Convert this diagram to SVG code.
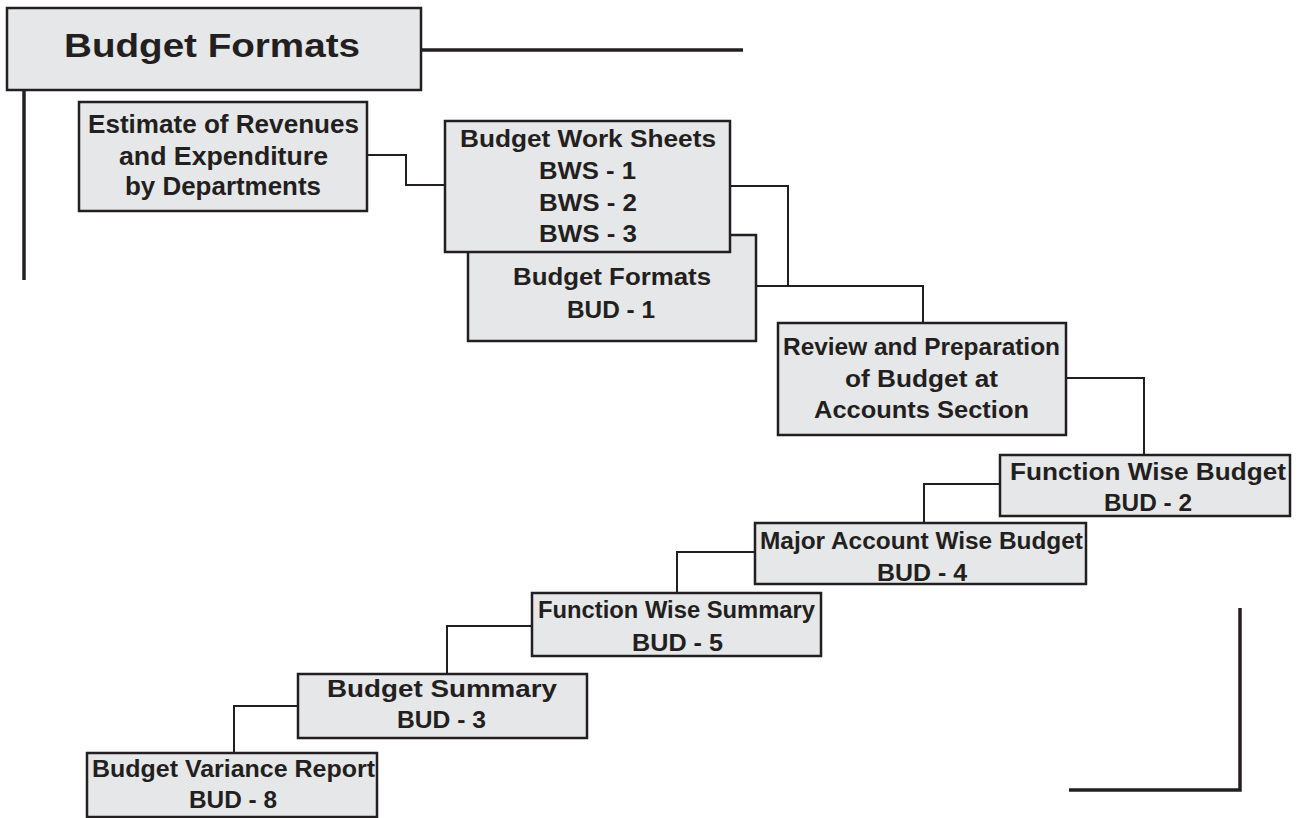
<svg xmlns="http://www.w3.org/2000/svg" width="1300" height="818" viewBox="0 0 1300 818">
<style>
.box{fill:#e6e7e8;stroke:#231f20;stroke-width:2.5}
.t{font-family:"Liberation Sans",Arial,sans-serif;font-weight:bold;font-size:23px;fill:#231f20}
.big{font-size:25px}
.title{font-size:34px}
.c{fill:none;stroke:#231f20;stroke-width:2}
.heavy{fill:none;stroke:#231f20;stroke-width:3.5}
</style>
<rect width="1300" height="818" fill="#ffffff"/>
<g id="connectors">
<polyline class="c" points="367,155 406,155 406,185 445,185"/>
<polyline class="c" points="730,186 788,186 788,286"/>
<polyline class="c" points="756,286 923,286 923,323"/>
<polyline class="c" points="1066,378 1144,378 1144,455"/>
<polyline class="c" points="1000,484 924,484 924,523"/>
<polyline class="c" points="755,552 677,552 677,593"/>
<polyline class="c" points="532,626 447,626 447,674"/>
<polyline class="c" points="298,706 234,706 234,753"/>
</g>
<g id="decor">
<line class="heavy" x1="421" y1="50" x2="743" y2="50"/>
<line class="heavy" x1="24" y1="90" x2="24" y2="280"/>
<polyline class="heavy" points="1240,608 1240,790 1069,790"/>
</g>
<g id="title">
<rect class="box" x="7" y="8" width="414" height="82"/>
<text class="t title" x="64" y="57" textLength="296" lengthAdjust="spacingAndGlyphs">Budget  Formats</text>
</g>
<g id="estimate">
<rect class="box" x="79" y="102" width="288" height="109"/>
<text class="t big" x="88" y="133" textLength="271" lengthAdjust="spacingAndGlyphs">Estimate of Revenues</text>
<text class="t big" x="119" y="165" textLength="209" lengthAdjust="spacingAndGlyphs">and  Expenditure</text>
<text class="t big" x="125" y="195" textLength="196" lengthAdjust="spacingAndGlyphs">by Departments</text>
</g>
<g id="bud1">
<rect class="box" x="468" y="235" width="288" height="106"/>
<text class="t" x="513" y="285" textLength="198" lengthAdjust="spacingAndGlyphs">Budget Formats</text>
<text class="t" x="567" y="318" textLength="88" lengthAdjust="spacingAndGlyphs">BUD - 1</text>
</g>
<g id="bws">
<rect class="box" x="445" y="121" width="285" height="131"/>
<text class="t" x="460" y="147" textLength="256" lengthAdjust="spacingAndGlyphs">Budget Work Sheets</text>
<text class="t" x="539" y="179" textLength="97" lengthAdjust="spacingAndGlyphs">BWS - 1</text>
<text class="t" x="539" y="211" textLength="98" lengthAdjust="spacingAndGlyphs">BWS - 2</text>
<text class="t" x="539" y="242" textLength="98" lengthAdjust="spacingAndGlyphs">BWS - 3</text>
</g>
<g id="review">
<rect class="box" x="778" y="323" width="288" height="112"/>
<text class="t" x="783" y="355" textLength="277" lengthAdjust="spacingAndGlyphs">Review and Preparation</text>
<text class="t" x="845" y="387" textLength="153" lengthAdjust="spacingAndGlyphs">of Budget at</text>
<text class="t" x="814" y="418" textLength="215" lengthAdjust="spacingAndGlyphs">Accounts Section</text>
</g>
<g id="bud2">
<rect class="box" x="1000" y="455" width="290" height="61"/>
<text class="t" x="1010" y="480" textLength="276" lengthAdjust="spacingAndGlyphs">Function Wise Budget</text>
<text class="t" x="1104" y="511" textLength="88" lengthAdjust="spacingAndGlyphs">BUD - 2</text>
</g>
<g id="bud4">
<rect class="box" x="755" y="523" width="331" height="61"/>
<text class="t" x="760" y="549" textLength="323" lengthAdjust="spacingAndGlyphs">Major Account Wise Budget</text>
<text class="t" x="877" y="581" textLength="90" lengthAdjust="spacingAndGlyphs">BUD - 4</text>
</g>
<g id="bud5">
<rect class="box" x="532" y="593" width="289" height="63"/>
<text class="t" x="538" y="618" textLength="277" lengthAdjust="spacingAndGlyphs">Function Wise Summary</text>
<text class="t" x="632" y="651" textLength="91" lengthAdjust="spacingAndGlyphs">BUD - 5</text>
</g>
<g id="bud3">
<rect class="box" x="298" y="674" width="289" height="64"/>
<text class="t" x="327" y="697" textLength="230" lengthAdjust="spacingAndGlyphs">Budget Summary</text>
<text class="t" x="397" y="728" textLength="89" lengthAdjust="spacingAndGlyphs">BUD - 3</text>
</g>
<g id="bud8">
<rect class="box" x="87" y="753" width="290" height="64"/>
<text class="t" x="92" y="777" textLength="283" lengthAdjust="spacingAndGlyphs">Budget Variance Report</text>
<text class="t" x="189" y="808" textLength="88" lengthAdjust="spacingAndGlyphs">BUD - 8</text>
</g>
</svg>
